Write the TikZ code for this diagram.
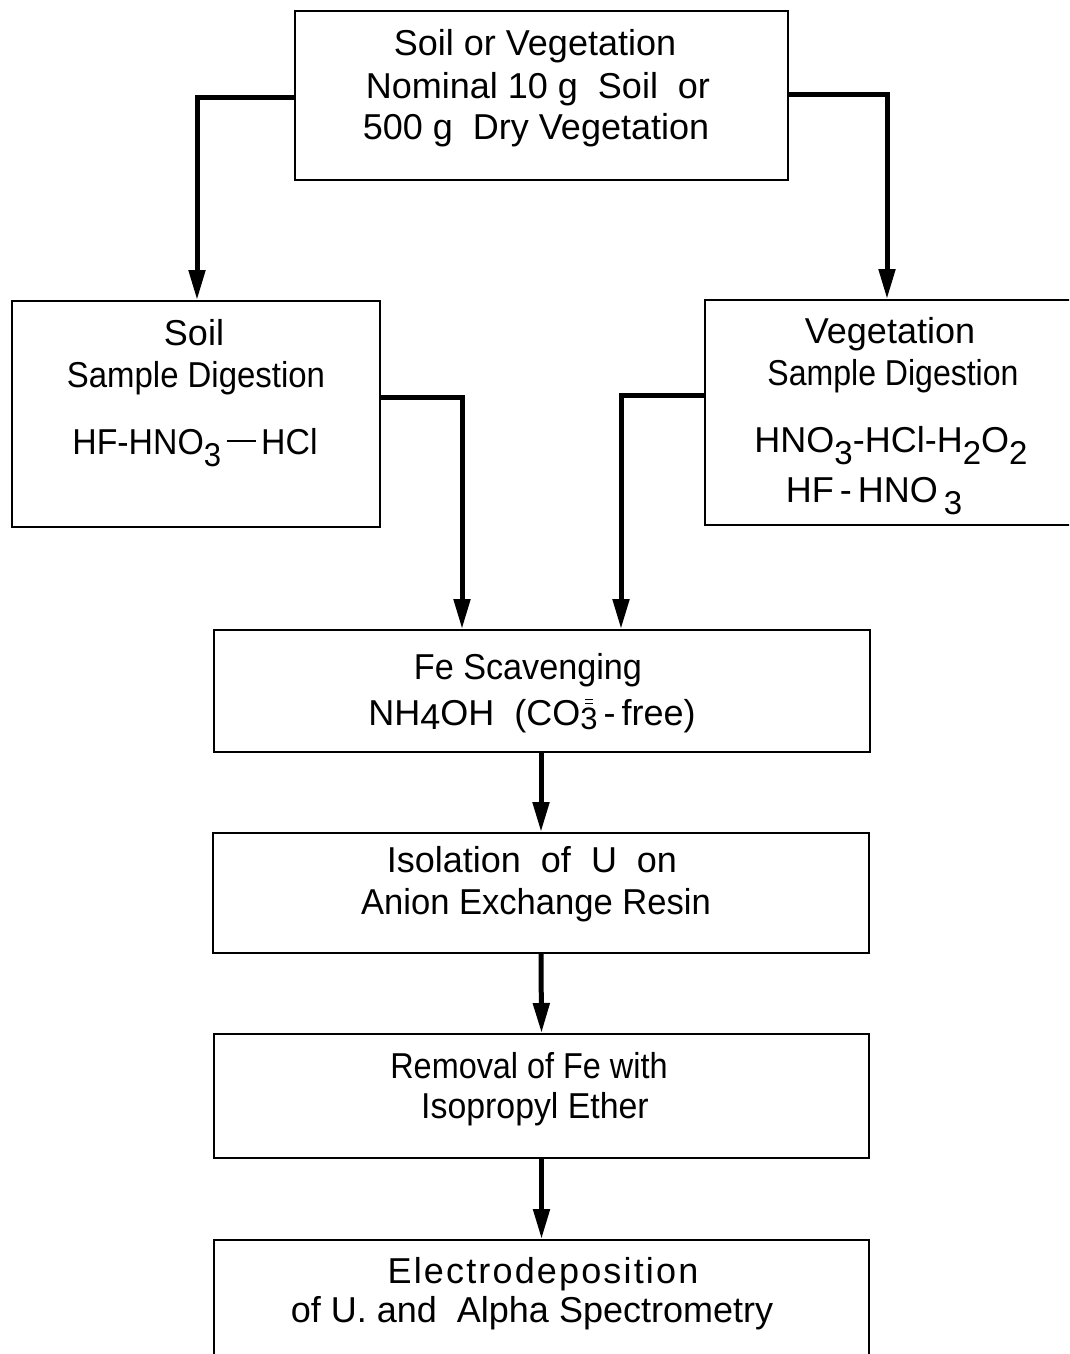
\documentclass[tikz,border=0pt]{standalone}
\usepackage{fontspec}
\setmainfont{Liberation Sans}
\usetikzlibrary{arrows.meta}
\newcommand\sbs[1]{\raisebox{-0.32em}{\fontsize{33}{33}\selectfont #1}}
\newcommand\hs[2]{\scalebox{#1}[1]{#2}}
\newcommand\cothree{\raisebox{-0.12em}{\fontsize{31}{31}\selectfont\ooalign{3\cr\hidewidth\raisebox{25.5pt}{\rule{8pt}{1.8pt}}\hidewidth\cr\hidewidth\raisebox{29.5pt}{\rule{8pt}{1.8pt}}\hidewidth\cr}}}
\begin{document}
\begin{tikzpicture}[x=1pt,y=-1pt,
  box/.style={draw,line width=2pt,inner sep=0pt,minimum width=#1},
  txt/.style={inner sep=0pt,font=\fontsize{36}{42}\selectfont,text height=27pt,text depth=8pt},
  conn/.style={line width=5pt,-{Triangle[width=16pt,length=30pt]}}]
\useasboundingbox (0,0) rectangle (1069,1354);
\clip (0,0) rectangle (1069,1354);
\fill[white] (0,0) rectangle (1069,1354);
% boxes
\node[box=493pt,minimum height=169pt] (top) at (541.5,95.5) {};
\node[box=368pt,minimum height=226pt] (soil) at (196,414) {};
\node[box=370pt,minimum height=225pt] (veg) at (890,412.5) {};
\node[box=656pt,minimum height=122pt] (fe) at (542,691) {};
\node[box=656pt,minimum height=120pt] (iso) at (541,893) {};
\node[box=655pt,minimum height=124pt] (rem) at (541.5,1096) {};
\node[box=655pt,minimum height=160pt] (ele) at (541.5,1320) {};
% texts
\node[txt] (t1) at (535,46) {Soil or Vegetation};
\node[txt] (t2) at (538,89) {Nominal 10 g\ \ Soil\ \ or};
\node[txt] (t3) at (536,130) {500 g\ \ Dry Vegetation};
\node[txt] (s1) at (194,336) {Soil};
\node[txt] (s2) at (196,378) {\hs{0.915}{Sample Digestion}};
\node[txt] (s3) at (195,445) {\hs{0.94}{HF-HNO\sbs{3}\,\rule[0.36em]{0.85em}{2pt}\,HCl}};
\node[txt] (v1) at (890,334) {Vegetation};
\node[txt] (v2) at (893,376) {\hs{0.89}{Sample Digestion}};
\node[txt] (v3) at (891,443) {HNO\sbs{3}-HCl-H\sbs{2}O\sbs{2}};
\node[txt] (v4) at (874,493) {HF\,-\,HNO\,\sbs{3}};
\node[txt] (f1) at (528,670) {\hs{0.95}{Fe Scavenging}};
\node[txt] (f2) at (532,716) {NH\raisebox{-0.12em}{4}OH\ \ (CO\cothree\,-\,free)};
\node[txt] (i1) at (532,863) {Isolation\ \ of\ \ U\ \ on};
\node[txt] (i2) at (536,905) {\hs{0.96}{Anion Exchange Resin}};
\node[txt] (r1) at (529,1069) {\hs{0.9}{Removal of Fe with}};
\node[txt] (r2) at (535,1109) {\hs{0.94}{Isopropyl Ether}};
\node[txt] (e1) at (543,1274) {\addfontfeature{LetterSpace=6}Electrodeposition};
\node[txt] (e2) at (532,1313) {of U. and\ \ Alpha Spectrometry};
% connectors
\draw[conn] ([yshift=-1.5pt]top.west) -| ([xshift=1pt]soil.north);
\draw[conn] ([yshift=1.5pt]top.east) -| ([xshift=-3pt]veg.north);
\draw[conn] ([yshift=17pt]soil.east) -| ([xshift=-80pt]fe.north);
\draw[conn] ([yshift=17.5pt]veg.west) -| ([xshift=79pt]fe.north);
\draw[conn] ([xshift=-1pt]fe.south) -- (iso.north);
\draw[conn] (iso.south) -- (rem.north);
\draw[conn] (rem.south) -- (ele.north);
\end{tikzpicture}
\end{document}
